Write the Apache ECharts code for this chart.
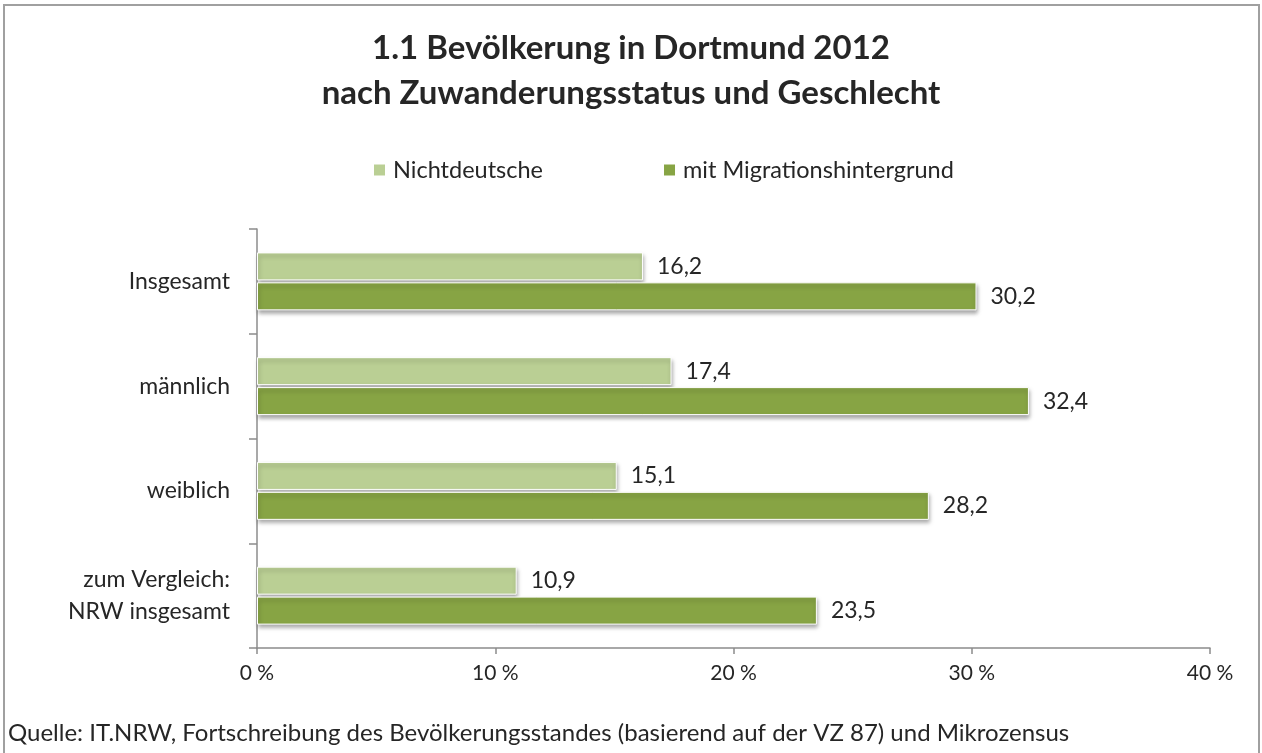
<!DOCTYPE html>
<html>
<head>
<meta charset="utf-8">
<script src="https://cdn.jsdelivr.net/npm/echarts@6/dist/echarts.min.js"></script>
<style>
  html, body { margin: 0; padding: 0; background: #fff; }
  #chart { width: 1262px; height: 753px; }
</style>
</head>
<body>
<div id="chart"></div>
<script>
const categories = ['Insgesamt', 'männlich', 'weiblich', 'zum Vergleich:\nNRW insgesamt'];
const nichtdeutsche = [16.2, 17.4, 15.1, 10.9];
const migration = [30.2, 32.4, 28.2, 23.5];
const xTicks = [0, 10, 20, 30, 40];

const chart = echarts.init(document.getElementById('chart'));
const font = 'Lato, "Open Sans", sans-serif';
const textColor = '#262626';
const fmt = v => String(v).replace('.', ',');

const barStyle = color => ({
  color: color,
  borderColor: '#ffffff',
  borderWidth: 1,
  shadowColor: 'rgba(0,0,0,0.35)',
  shadowBlur: 4,
  shadowOffsetX: 1,
  shadowOffsetY: 3
});

const valueLabel = {
  show: true,
  position: 'right',
  distance: 14,
  fontSize: 23,
  color: textColor,
  formatter: p => fmt(p.value)
};

const option = {
  animation: false,
  textStyle: { fontFamily: font },
  title: {
    text: '1.1 Bevölkerung in Dortmund 2012\nnach Zuwanderungsstatus und Geschlecht',
    left: 'center',
    top: 21,
    textStyle: { fontSize: 33, fontWeight: 'bold', color: textColor, lineHeight: 45, fontFamily: font }
  },
  legend: {
    left: 367,
    top: 153,
    itemWidth: 13,
    itemHeight: 13,
    itemGap: 119,
    icon: 'rect',
    textStyle: { fontSize: 23.5, color: textColor, fontFamily: font, padding: [0, 0, 0, 2] },
    data: ['Nichtdeutsche', 'mit Migrationshintergrund']
  },
  grid: { left: 257, right: 52, top: 229, bottom: 105 },
  xAxis: {
    type: 'value',
    min: xTicks[0],
    max: xTicks[xTicks.length - 1],
    interval: 10,
    splitLine: { show: false },
    axisLine: { show: true, lineStyle: { color: '#8c8c8c', width: 1.5 } },
    axisTick: { show: true, length: 6, lineStyle: { color: '#8c8c8c', width: 1.5 } },
    axisLabel: { fontSize: 21, color: textColor, margin: 15, formatter: v => v + ' %' }
  },
  yAxis: {
    type: 'category',
    inverse: true,
    data: categories,
    axisLine: { lineStyle: { color: '#8c8c8c', width: 1.5 } },
    axisTick: { show: true, length: 8, lineStyle: { color: '#8c8c8c', width: 1.5 } },
    axisLabel: { fontSize: 23, color: textColor, margin: 27, lineHeight: 32, align: 'right' }
  },
  series: [
    {
      name: 'Nichtdeutsche',
      type: 'bar',
      data: nichtdeutsche,
      barWidth: 28,
      barGap: '7%',
      itemStyle: barStyle('#bacf94'),
      label: valueLabel
    },
    {
      name: 'mit Migrationshintergrund',
      type: 'bar',
      data: migration,
      barWidth: 28,
      itemStyle: barStyle('#87a444'),
      label: valueLabel
    }
  ],
  graphic: [
    {
      type: 'rect',
      shape: { x: 4, y: 5, width: 1255, height: 800 },
      style: { fill: 'none', stroke: '#a0a0a0', lineWidth: 2 },
      silent: true
    },
    {
      type: 'text',
      left: 8,
      top: 721,
      style: {
        text: 'Quelle: IT.NRW, Fortschreibung des Bevölkerungsstandes (basierend auf der VZ 87) und Mikrozensus',
        fontSize: 24,
        fill: textColor,
        fontFamily: font
      }
    }
  ]
};
chart.setOption(option);
</script>
</body>
</html>
